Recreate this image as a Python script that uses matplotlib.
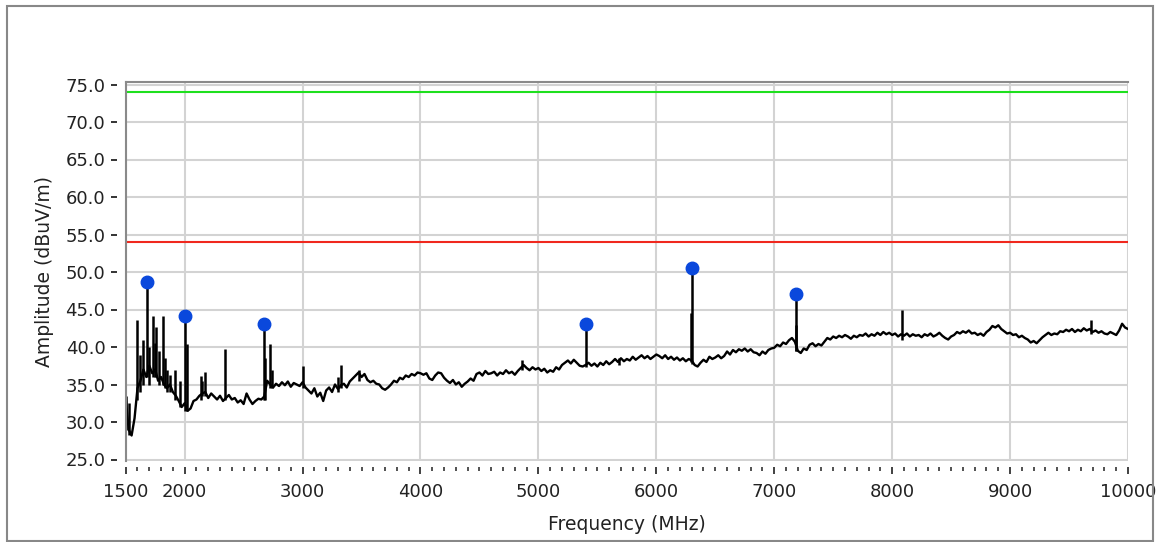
import matplotlib
matplotlib.use("Agg")
import matplotlib.pyplot as plt
from matplotlib.patches import Rectangle
from matplotlib.ticker import MultipleLocator, FixedLocator

# spectrum trace, one reading every 25 MHz from 1500 to 10000 MHz
freq_start = 1500
freq_step = 25
trace_amp = [
    33.2, 29.0, 28.2, 30.5, 34.5, 35.5, 37.0, 36.0, 37.5, 36.5, 37.0, 35.5, 36.0, 35.0, 34.5, 35.0, 34.0, 33.5, 32.8, 32.0,
    32.5, 31.5, 31.8, 32.8, 33.0, 33.5, 33.8, 34.0, 33.2, 33.8, 33.4, 33.0, 33.5, 32.8, 33.2, 33.6, 33.0, 33.2, 32.6, 32.9,
    32.4, 33.8, 33.0, 32.4, 32.8, 33.1, 33.0, 33.4, 35.5, 35.0, 34.6, 35.1, 34.8, 35.3, 34.9, 35.4, 34.7, 35.2, 35.0, 34.8,
    35.3, 34.6, 34.2, 33.8, 34.5, 33.4, 33.9, 32.8, 34.2, 34.6, 34.0, 35.0, 34.4, 34.9, 35.1, 34.6, 35.4, 35.8, 36.2, 36.6,
    36.0, 36.4, 35.6, 35.3, 35.5, 35.1, 35.0, 34.5, 34.3, 34.6, 35.0, 35.5, 35.3, 35.9, 35.7, 36.2, 36.0, 36.4, 36.2, 36.6,
    36.5, 36.3, 36.5, 35.8, 35.6, 36.2, 36.6, 36.5, 35.9, 35.5, 35.2, 35.6, 35.0, 35.3, 34.7, 35.1, 35.4, 35.8, 35.5, 36.4,
    36.6, 36.2, 36.8, 36.4, 36.5, 36.7, 36.2, 36.6, 36.4, 36.9, 36.5, 36.7, 36.3, 36.8, 37.2, 37.6, 37.2, 36.9, 37.3, 37.0,
    37.2, 36.8, 37.1, 36.6, 36.9, 36.7, 37.3, 37.0, 37.6, 37.9, 38.2, 37.8, 38.3, 37.9, 37.5, 37.4, 37.6, 37.9, 37.5, 37.8,
    37.4, 37.9, 37.6, 38.1, 37.7, 38.0, 38.4, 38.0, 38.5, 38.1, 38.4, 38.2, 38.7, 38.3, 38.6, 38.9, 38.5, 38.8, 38.4, 38.7,
    39.0, 38.8, 38.5, 38.9, 38.4, 38.7, 38.3, 38.6, 38.2, 38.5, 38.1, 38.4, 38.2, 37.6, 37.4, 37.9, 38.3, 38.0, 38.7, 38.4,
    38.6, 38.9, 38.5, 38.8, 39.4, 39.0, 39.6, 39.3, 39.7, 39.5, 39.8, 39.4, 39.7, 39.3, 39.2, 38.9, 39.4, 39.1, 39.6, 39.8,
    39.9, 40.3, 40.1, 40.6, 40.4, 40.9, 41.2, 40.7, 39.5, 39.2, 39.8, 39.6, 40.3, 40.5, 40.1, 40.4, 40.2, 40.7, 41.2, 41.0,
    41.4, 41.2, 41.5, 41.3, 41.6, 41.4, 41.1, 41.5, 41.3, 41.6, 41.5, 41.8, 41.4, 41.7, 41.5, 41.9, 41.6, 42.0, 41.7, 41.9,
    41.6, 41.8, 41.4, 41.7, 41.5, 41.8, 41.4, 41.7, 41.5, 41.6, 41.3, 41.7, 41.5, 41.8, 41.4, 41.6, 41.9, 41.5, 41.2, 41.0,
    41.4, 41.6, 42.0, 41.8, 42.1, 41.9, 42.2, 41.8, 41.9, 41.6, 41.8, 41.5, 42.0, 42.3, 42.8, 42.6, 42.9, 42.4, 42.1, 41.8,
    41.9, 41.6, 41.7, 41.3, 41.5, 41.2, 41.0, 40.6, 40.8, 40.5, 40.9, 41.3, 41.6, 41.9, 41.6, 41.8, 41.7, 42.1, 42.0, 42.3,
    42.1, 42.4, 42.0, 42.3, 42.1, 42.5, 42.2, 42.4, 42.0, 42.2, 41.9, 42.1, 41.8, 41.7, 42.0, 41.8, 41.6, 42.2, 43.1, 42.6,
    42.4,
]
trace_freq = [freq_start + i * freq_step for i in range(len(trace_amp))]

# narrow spurs: frequency, foot and tip of each vertical spike
spur_freq = [1505, 1530, 1595, 1620, 1645, 1680, 1700, 1728, 1745, 1755, 1780, 1813, 1830, 1850, 1875, 1917, 1960,
             2000, 2024, 2137, 2150, 2170, 2343, 2675, 2678, 2727, 2740, 3000, 3300, 3327, 3480, 4864, 5400, 5680,
             6295, 6305, 7183, 7188, 8080, 9690]
spur_low = [29.0, 28.3, 33.0, 34.0, 35.0, 36.0, 35.0, 36.0, 36.0, 36.0, 35.0, 35.0, 34.5, 34.0, 34.0, 33.0, 32.0,
            31.5, 31.5, 33.0, 33.5, 33.5, 33.0, 33.0, 33.0, 34.5, 34.5, 34.5, 34.0, 34.5, 35.5, 37.0, 37.4, 37.6,
            38.0, 37.8, 39.5, 39.5, 41.0, 41.8]
spur_top = [33.5, 32.5, 43.6, 39.0, 41.0, 48.7, 40.0, 44.2, 40.5, 42.7, 39.5, 44.2, 38.5, 37.0, 36.3, 37.0, 35.5,
            44.1, 40.4, 36.1, 35.5, 36.7, 39.7, 43.1, 38.5, 40.4, 37.0, 37.5, 36.0, 37.6, 37.0, 38.3, 43.1, 38.5,
            44.5, 50.5, 47.1, 42.9, 45.0, 43.6]

# peak markers
peak_freq = [1680, 2000, 2675, 5400, 6305, 7183]
peak_amp = [48.7, 44.1, 43.1, 43.1, 50.5, 47.1]

# limit lines
limit_peak = 74.0
limit_avg = 54.0

y_ticks = [25, 30, 35, 40, 45, 50, 55, 60, 65, 70, 75]
x_ticks = [1500, 2000, 3000, 4000, 5000, 6000, 7000, 8000, 9000, 10000]

W, H = 1156, 542
fig = plt.figure(figsize=(W / 100, H / 100), dpi=100)
ax = fig.add_axes([125.7 / W, (H - 461) / H, (1128 - 125.7) / W, (461 - 81.5) / H])

grid_c = "#d3d3d3"
ax.set_xlim(1500, 10000)
ax.set_ylim(24.8, 75.4)
ax.xaxis.set_major_locator(FixedLocator(x_ticks))
ax.xaxis.set_minor_locator(MultipleLocator(100))
ax.yaxis.set_major_locator(FixedLocator(y_ticks))
ax.set_yticklabels([f"{v:.1f}" for v in y_ticks])
ax.grid(True, which="major", color=grid_c, linewidth=1.5, zorder=0)

ax.plot(trace_freq, trace_amp, color="black", linewidth=1.7, zorder=3)
ax.vlines(spur_freq, spur_low, spur_top, color="black", linewidth=1.8, zorder=3)
ax.axhline(limit_peak, color="#1ee01e", linewidth=1.5, zorder=2)
ax.axhline(limit_avg, color="#f0281e", linewidth=1.5, zorder=2)
ax.plot(peak_freq, peak_amp, "o", color="#0a48dc", markersize=9, zorder=4)

for s in ["right", "bottom"]:
    ax.spines[s].set_visible(False)
ax.spines["top"].set_color("#8a8a8a")
ax.spines["top"].set_linewidth(1.5)
ax.spines["left"].set_position(("outward", 6))
ax.spines["left"].set_visible(False)
ax.spines["bottom"].set_position(("outward", 4))
ax.axvline(1500, color="#8a8a8a", linewidth=1.5, clip_on=False, zorder=5)

ax.tick_params(axis="y", direction="out", length=4.5, width=1.4, color="#333333", pad=4, labelsize=13, labelcolor="#222222")
ax.tick_params(axis="x", which="major", direction="out", length=5, width=1.3, color="#333333", pad=7, labelsize=13, labelcolor="#222222")
ax.tick_params(axis="x", which="minor", direction="out", length=3, width=1.2, color="#333333")

ax.set_xlabel("Frequency (MHz)", fontsize=13.5, color="#222222", labelpad=10)
ax.set_ylabel("Amplitude (dBuV/m)", fontsize=13.5, color="#222222", labelpad=8)

# outer panel frame
fig.patches.append(Rectangle((7 / W, 1.5 / H), 1146 / W, 535 / H, transform=fig.transFigure,
                             fill=False, edgecolor="#888888", linewidth=1.5, zorder=10))

fig.savefig("out.png", dpi=100, facecolor="white")
